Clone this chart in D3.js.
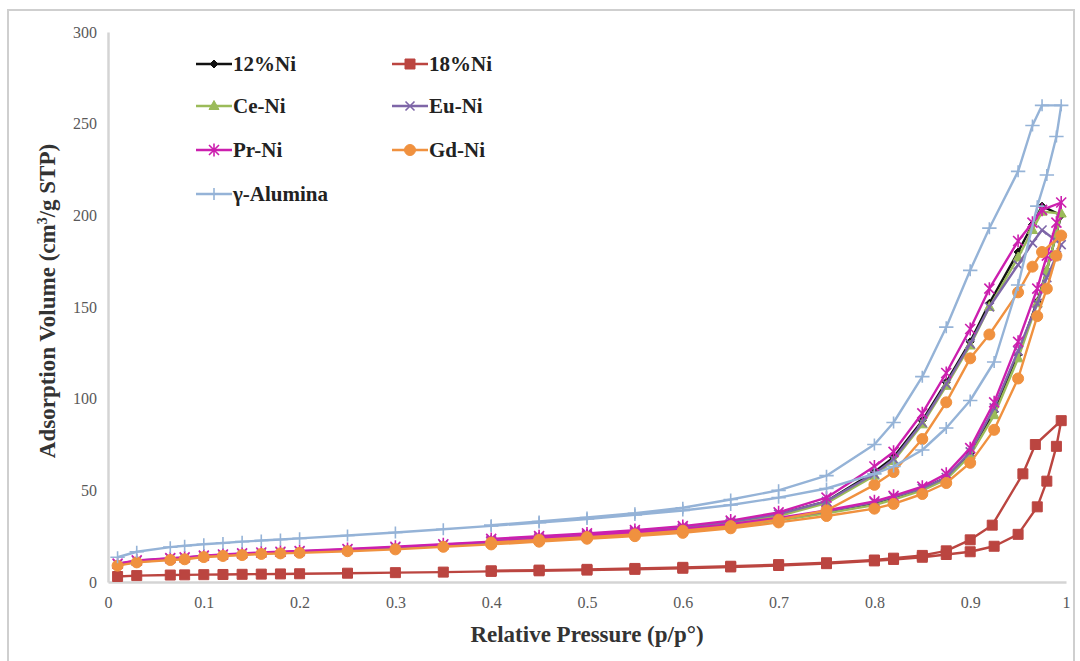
<!DOCTYPE html>
<html>
<head>
<meta charset="utf-8">
<script src="https://cdn.jsdelivr.net/npm/d3@7"></script>
<style>
  body { margin: 0; background: #fff; }
  svg { display: block; }
</style>
</head>
<body>
<svg id="chart" width="1080" height="661"></svg>
<script>
// Relative pressures (p/p°) of the adsorption and desorption branches
const adsPressure = [0.01, 0.03, 0.065, 0.08, 0.1, 0.12, 0.14, 0.16, 0.18, 0.2,
  0.25, 0.3, 0.35, 0.4, 0.45, 0.5, 0.55, 0.6, 0.65, 0.7,
  0.75, 0.8, 0.82, 0.85, 0.875, 0.9, 0.925, 0.95, 0.97, 0.98, 0.99, 0.995];
const desPressure = [0.975, 0.965, 0.95, 0.92, 0.9, 0.875, 0.85, 0.82, 0.8, 0.75,
  0.7, 0.65, 0.6, 0.55, 0.5, 0.45, 0.4];
// the 18%Ni desorption run was logged at its own pressures
const ni18DesPressure = [0.968, 0.955, 0.923, 0.9, 0.875, 0.85, 0.82, 0.8, 0.75,
  0.7, 0.65, 0.6, 0.55, 0.5, 0.45, 0.4];

// Adsorbed volume (cm3/g STP), adsorption then desorption, per sample
const ni12Ads = [9.5, 11.3, 12.6, 13, 14, 14.6, 15.2, 15.7, 16.1, 16.5, 17.5, 18.7, 20, 21.4, 23, 24.6, 26.3, 28.2, 30.7, 34,
  38, 43, 46, 51, 57, 70, 93, 124, 153, 170, 190, 200];
const ni12Des = [205, 195, 180, 152, 131, 109, 88, 68, 60, 44, 37, 32.5, 29.8, 27.6, 25.8, 24.3, 22.8];

const ni18Ads = [3, 3.5, 3.8, 3.9, 4.0, 4.1, 4.2, 4.3, 4.4, 4.5, 4.8, 5.1, 5.4, 5.8, 6.1, 6.5, 6.9, 7.5, 8.2, 9,
  10, 11.5, 12.3, 13.5, 15, 16.5, 19.5, 26, 41, 55, 74, 88];
const ni18Des = [75, 59, 31, 23, 17, 14.5, 13, 12, 10.5, 9.5, 8.6, 8, 7.4, 6.9, 6.5, 6.1];

const ceAds = [9.3, 11, 12.3, 12.7, 13.8, 14.4, 15, 15.5, 15.9, 16.3, 17.3, 18.4, 19.8, 21.2, 22.7, 24.3, 26, 27.9, 30.4, 33.6,
  37.5, 42, 45, 50, 56, 69, 91, 122, 152, 170, 190, 201];
const ceDes = [202, 192, 177, 150, 129, 107, 86, 66, 58, 43, 36, 32, 29.3, 27.2, 25.5, 24, 22.5];

const euAds = [9.8, 11.6, 12.8, 13.2, 14.2, 14.8, 15.4, 15.9, 16.3, 16.7, 17.7, 18.9, 20.3, 21.7, 23.3, 25, 26.7, 28.6, 31, 34.5,
  38.5, 43.5, 46.5, 51, 57, 71, 95, 126, 152, 166, 178, 184];
const euDes = [192, 185, 173, 150, 130, 108, 87, 67, 59, 44, 37, 32.8, 30, 27.9, 26.1, 24.6, 23];

const prAds = [10, 11.8, 13, 13.4, 14.4, 15, 15.6, 16.1, 16.5, 16.9, 18, 19.2, 20.6, 22, 23.6, 25.3, 27, 29, 31.5, 35,
  39, 44, 47, 52, 59, 73, 98, 131, 160, 178, 196, 207];
const prDes = [203, 196, 186, 160, 138, 114, 92, 71, 63, 46, 38, 33.5, 30.5, 28.3, 26.5, 25, 23.5];

const gdAds = [8.9, 10.7, 12, 12.4, 13.6, 14.2, 14.7, 15.3, 15.6, 15.9, 16.8, 17.8, 19.2, 20.5, 22, 23.6, 25, 26.8, 29.3, 32.5,
  36, 40, 42.6, 48, 54, 65, 83, 111, 145, 160, 178, 189];
const gdDes = [180, 172, 158, 135, 122, 98, 78, 60, 53, 39, 34, 30.5, 28, 26, 24.5, 23, 21.5];

const aluminaAds = [13.5, 16.5, 19, 19.8, 20.6, 21.3, 22, 22.6, 23.2, 23.8, 25.4, 27, 28.8, 30.6, 32.4, 34.4, 36.6, 39, 42, 46,
  51, 59, 63, 72, 84, 99, 120, 162, 205, 222, 243, 260];
const aluminaDes = [260, 249, 224, 193, 170, 139, 112, 87, 75, 58, 50, 45, 40.5, 37.5, 35.2, 33, 31];

const seriesNames = ["12%Ni", "18%Ni", "Ce-Ni", "Eu-Ni", "Pr-Ni", "Gd-Ni", "γ-Alumina"];
const xTicks = [0, 0.1, 0.2, 0.3, 0.4, 0.5, 0.6, 0.7, 0.8, 0.9, 1];
const xTickLabels = ["0", "0.1", "0.2", "0.3", "0.4", "0.5", "0.6", "0.7", "0.8", "0.9", "1"];
const yTicks = [0, 50, 100, 150, 200, 250, 300];

// Join a branch's pressures with its volumes
const branch = (ps, vs) => ps.map((p, i) => [p, vs[i]]);
const isotherm = (ads, des, desP = desPressure) => branch(adsPressure, ads).concat(branch(desP, des));

const series = [
  { name: seriesNames[0], color: "#111111", marker: "diamond", pts: isotherm(ni12Ads, ni12Des) },
  { name: seriesNames[1], color: "#BB4540", marker: "square", pts: isotherm(ni18Ads, ni18Des, ni18DesPressure) },
  { name: seriesNames[2], color: "#9BBB59", marker: "triangle", pts: isotherm(ceAds, ceDes) },
  { name: seriesNames[3], color: "#7E66A8", marker: "x", pts: isotherm(euAds, euDes) },
  { name: seriesNames[4], color: "#CC1FAE", marker: "star", pts: isotherm(prAds, prDes) },
  { name: seriesNames[5], color: "#F0913F", marker: "circle", pts: isotherm(gdAds, gdDes) },
  { name: seriesNames[6], color: "#95B3D7", marker: "plus", pts: isotherm(aluminaAds, aluminaDes) }
];

const svg = d3.select("#chart");
const serif = "'Liberation Serif', 'Times New Roman', serif";

// Outer frame
svg.append("rect")
  .attr("x", 8).attr("y", 10).attr("width", 1066).attr("height", 680)
  .attr("fill", "none").attr("stroke", "#CFCFCF").attr("stroke-width", 2);

const x = d3.scaleLinear().domain([0, 1]).range([108, 1066]);
const y = d3.scaleLinear().domain([0, 300]).range([582, 32]);

// Axes
const xAxis = svg.append("g").attr("transform", `translate(0,${y(0)})`)
  .call(d3.axisBottom(x).tickValues(xTicks).tickFormat((d, i) => xTickLabels[i])
    .tickSize(0).tickSizeOuter(0).tickPadding(15));
const yAxis = svg.append("g").attr("transform", `translate(${x(0)},0)`)
  .call(d3.axisLeft(y).tickValues(yTicks).tickSize(0).tickSizeOuter(0).tickPadding(11));

[xAxis, yAxis].forEach(g => {
  g.select(".domain").attr("stroke", "#D4D4D4").attr("stroke-width", 2.5);
  g.selectAll("text")
    .attr("fill", "#595959")
    .style("font-family", serif)
    .style("font-size", "16px");
});

// Marker shapes
function markerPath(type, s) {
  switch (type) {
    case "diamond": return `M0,${-s}L${s},0L0,${s}L${-s},0Z`;
    case "square": return `M${-s},${-s}H${s}V${s}H${-s}Z`;
    case "triangle": return `M0,${-s * 1.1}L${s},${s * 0.7}L${-s},${s * 0.7}Z`;
    case "circle": return d3.symbol(d3.symbolCircle, Math.PI * s * s)();
    case "x": return `M${-s},${-s}L${s},${s}M${-s},${s}L${s},${-s}`;
    case "star": return `M${-s},${-s}L${s},${s}M${-s},${s}L${s},${-s}M0,${-s * 1.3}V${s * 1.3}`;
    case "plus": return `M${-s * 1.2},0H${s * 1.2}M0,${-s}V${s}`;
  }
}
const markerSize = { diamond: 4, square: 5, triangle: 5, circle: 5.5, x: 4.5, star: 5, plus: 6 };
const filled = { diamond: true, square: true, triangle: true, circle: true, x: false, star: false, plus: false };

function drawMarker(g, type, color, px, py) {
  const p = g.append("path")
    .attr("d", markerPath(type, markerSize[type]))
    .attr("transform", `translate(${px},${py})`);
  if (filled[type]) p.attr("fill", color).attr("stroke", color).attr("stroke-width", 1);
  else p.attr("fill", "none").attr("stroke", color).attr("stroke-width", 1.6);
}

const line = d3.line().x(d => x(d[0])).y(d => y(d[1]));

const plot = svg.append("g");
series.forEach(s => {
  const g = plot.append("g");
  g.append("path").datum(s.pts)
    .attr("d", line)
    .attr("fill", "none")
    .attr("stroke", s.color)
    .attr("stroke-width", 2.4)
    .attr("stroke-linejoin", "round");
  s.pts.forEach(d => drawMarker(g, s.marker, s.color, x(d[0]), y(d[1])));
});

// Axis titles
svg.append("text")
  .attr("x", 587).attr("y", 642)
  .attr("text-anchor", "middle")
  .style("font-family", serif)
  .style("font-weight", "bold").style("font-size", "23px")
  .attr("fill", "#333")
  .text("Relative Pressure (p/p°)");

const yTitle = svg.append("text")
  .attr("transform", "translate(55,301) rotate(-90)")
  .attr("text-anchor", "middle")
  .style("font-family", serif)
  .style("font-weight", "bold").style("font-size", "23px")
  .attr("fill", "#333");
yTitle.append("tspan").text("Adsorption Volume (cm");
yTitle.append("tspan").attr("dy", -8).style("font-size", "14px").text("3");
yTitle.append("tspan").attr("dy", 8).text("/g STP)");

// Legend
const legendCols = [196, 392];
const legendRows = [64, 106, 150, 194];
series.forEach((s, i) => {
  const lx = legendCols[i % 2];
  const ly = legendRows[Math.floor(i / 2)];
  const g = svg.append("g");
  g.append("line")
    .attr("x1", lx).attr("x2", lx + 36)
    .attr("y1", ly).attr("y2", ly)
    .attr("stroke", s.color).attr("stroke-width", 2.4);
  drawMarker(g, s.marker, s.color, lx + 18, ly);
  g.append("text")
    .attr("x", lx + 37).attr("y", ly + 7)
    .style("font-family", serif)
    .style("font-weight", "bold").style("font-size", "21px")
    .attr("fill", "#222")
    .text(s.name);
});
</script>
</body>
</html>
